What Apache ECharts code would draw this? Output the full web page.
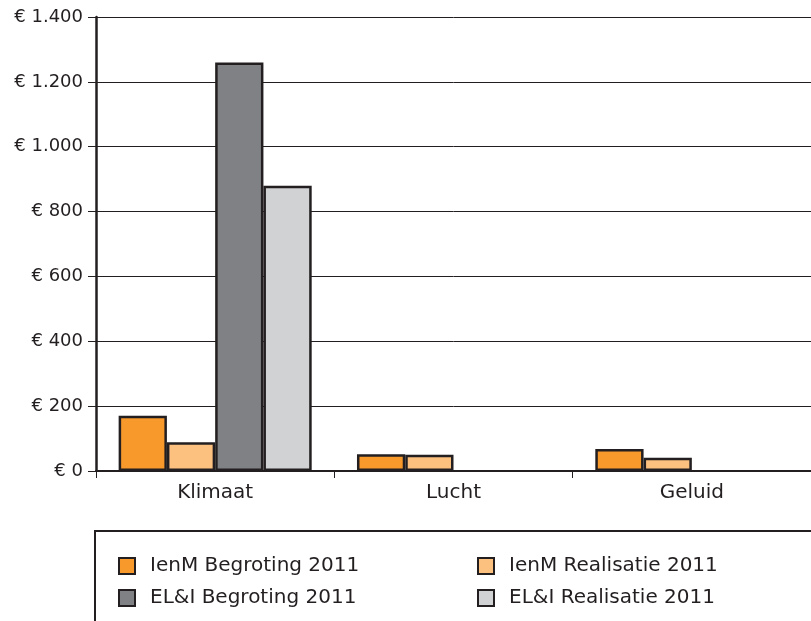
<!DOCTYPE html>
<html>
<head>
<meta charset="utf-8">
<script src="https://cdn.jsdelivr.net/npm/echarts@6/dist/echarts.min.js"></script>
<style>
html,body{margin:0;padding:0;background:#fff;}
#chart{width:811px;height:621px;}
</style>
</head>
<body>
<div id="chart"></div>
<script>
var categories = ['Klimaat', 'Lucht', 'Geluid'];
var ienmBegroting = [170, 52, 68];
var ienmRealisatie = [89, 50, 41];
var elenIBegroting = [1260, 0, 0];
var elenIRealisatie = [880, 0, 0];
var yTickValues = [0, 200, 400, 600, 800, 1000, 1200, 1400];
var yTickLabels = ['€ 0', '€ 200', '€ 400', '€ 600', '€ 800', '€ 1.000', '€ 1.200', '€ 1.400'];
var seriesNames = ['IenM Begroting 2011', 'IenM Realisatie 2011', 'EL&I Begroting 2011', 'EL&I Realisatie 2011'];
var seriesColors = ['#f7992b', '#fcc07f', '#808184', '#d1d2d4'];

var ink = '#231f20';
var font = '"DejaVu Sans", sans-serif';
var chart = echarts.init(document.getElementById('chart'));
var seriesData = [ienmBegroting, ienmRealisatie, elenIBegroting, elenIRealisatie];

var series = seriesData.map(function (d, i) {
  return {
    name: seriesNames[i],
    type: 'bar',
    data: d.map(function (v) { return v === 0 ? '-' : v; }),
    barGap: '0%',
    barCategoryGap: '19%',
    itemStyle: { color: seriesColors[i], borderColor: ink, borderWidth: 2.5 },
    emphasis: { disabled: true }
  };
});

var legendText = { color: ink, fontSize: 20, fontFamily: font, lineHeight: 16, padding: [0, 0, 0, 10] };

chart.setOption({
  animation: false,
  backgroundColor: '#fff',
  grid: { left: 96, right: 0, top: 17, bottom: 150, containLabel: false },
  xAxis: {
    type: 'category',
    data: categories,
    axisLine: { show: true, lineStyle: { color: ink, width: 2 } },
    axisTick: { show: true, length: 7, lineStyle: { color: ink, width: 1 } },
    axisLabel: { color: ink, fontSize: 20, fontFamily: font, margin: 12 },
    splitLine: { show: false }
  },
  yAxis: {
    type: 'value',
    min: 0,
    max: 1400,
    interval: 200,
    axisLine: { show: true, lineStyle: { color: ink, width: 2.5 } },
    axisTick: { show: true, length: 8, lineStyle: { color: ink, width: 1 } },
    axisLabel: {
      color: ink, fontSize: 18, fontFamily: font, margin: 13,
      formatter: function (v) {
        var idx = yTickValues.indexOf(v);
        return idx >= 0 ? yTickLabels[idx] : '';
      }
    },
    splitLine: { show: true, lineStyle: { color: ink, width: 1 } }
  },
  legend: [
    {
      orient: 'vertical', left: 118, top: 556, itemGap: 12,
      itemWidth: 16, itemHeight: 16, icon: 'rect', padding: 0,
      data: [seriesNames[0], seriesNames[2]],
      textStyle: legendText, selectedMode: false
    },
    {
      orient: 'vertical', left: 477, top: 556, itemGap: 12,
      itemWidth: 16, itemHeight: 16, icon: 'rect', padding: 0,
      data: [seriesNames[1], seriesNames[3]],
      textStyle: legendText, selectedMode: false
    }
  ],
  graphic: [
    {
      type: 'rect',
      shape: { x: 95, y: 531, width: 800, height: 200 },
      style: { fill: 'none', stroke: ink, lineWidth: 2 },
      silent: true
    }
  ],
  series: series
});
</script>
</body>
</html>
